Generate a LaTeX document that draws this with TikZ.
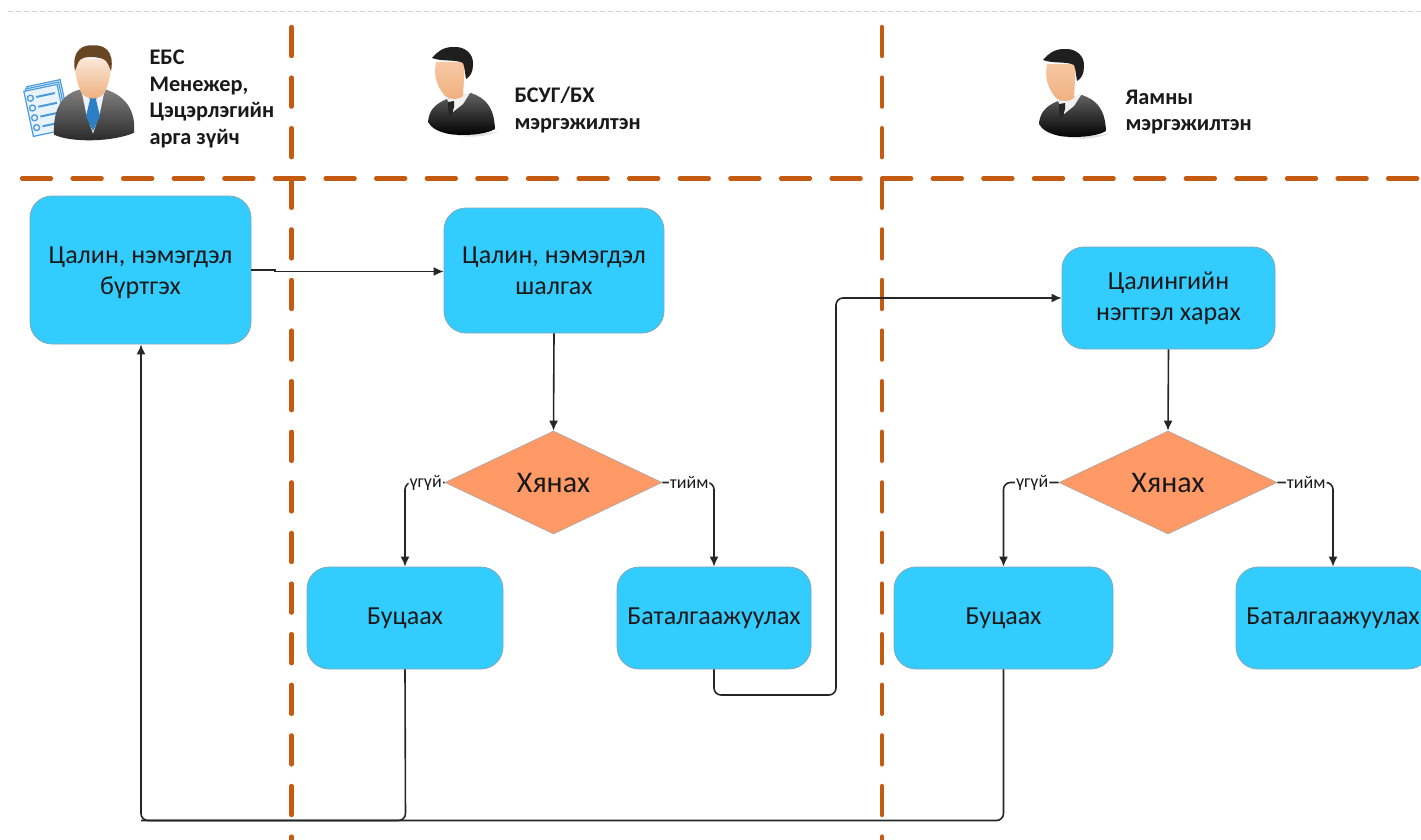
\documentclass[tikz,border=0pt]{standalone}
\usepackage{fontspec}
\setmainfont{Carlito}
\usetikzlibrary{shapes.geometric,arrows.meta}
\definecolor{boxblue}{HTML}{33CCFF}
\definecolor{boxedge}{HTML}{7FA8B8}
\definecolor{diaorange}{HTML}{FF9966}
\definecolor{laneline}{HTML}{C55A11}
\definecolor{paperblue}{HTML}{4A9BDC}
\definecolor{tieblue}{HTML}{2B7FC4}
\definecolor{skin}{HTML}{F5B585}
\tikzset{
  flowbox/.style={draw=boxedge,line width=0.8pt,fill=boxblue,rounded corners=22pt,align=center,font=\fontsize{26}{31}\selectfont,inner sep=0pt,text=black!90},
  decision/.style={diamond,draw=black!35,line width=0.6pt,fill=diaorange,aspect=2.1,inner sep=0pt,font=\fontsize{30}{30}\selectfont,text=black!90},
  conn/.style={draw=black!85,line width=1.6pt,rounded corners=7pt,-{Latex[length=10pt,width=9pt]}},
  plainconn/.style={draw=black!85,line width=1.6pt,rounded corners=7pt},
  lane/.style={draw=laneline,line width=4.4pt,line cap=round,dash pattern=on 29pt off 21.6pt},
  edgelabel/.style={fill=white,inner sep=1pt,font=\fontsize{18}{18}\selectfont,text=black!90},
  rolelabel/.style={align=left,anchor=west,font=\bfseries\fontsize{22.3}{26.7}\selectfont,text=black!90},
  suit/.pic={
    \fill[black!12] (-30,36) .. controls (-10,47) and (20,47) .. (36,39) .. controls (20,43) and (-10,44) .. (-30,36) -- cycle;
    \shade[top color=black!62,bottom color=black] (-35,30) .. controls (-34,18) and (-28,12) .. (-16,7) -- (8,1) .. controls (22,6) and (31,14) .. (32,37) .. controls (22,43) and (0,44) .. (-14,42) .. controls (-24,40) and (-32,36) .. (-35,30) -- cycle;
    \fill[black!6] (-16,7) -- (7,1) -- (0,12) -- (-10,20) -- cycle;
    \fill[black!85] (-15,10) -- (-9,9) -- (-9,15) -- (-11,22) -- (-14,24) -- (-15,16) -- cycle;
    \shade[top color=skin!75!white,bottom color=skin!90!brown] (-27,-30) .. controls (-29,-18) and (-28,-8) .. (-18,4) .. controls (-13,8) and (-4,8) .. (0,4) -- (2,-30) -- cycle;
    \fill[black!88] (-31,-34) .. controls (-26,-40) and (-20,-45) .. (-10,-45) .. controls (2,-46) and (11,-38) .. (10,-27) .. controls (10,-20) and (7,-15) .. (3,-13) .. controls (2,-18) and (2,-24) .. (0,-29) .. controls (-8,-33) and (-20,-30) .. (-31,-34) -- cycle;
  },
  manager/.pic={
    \begin{scope}[shift={(-65,15)},rotate=12]
      \foreach \d in {4,2,0}{\draw[draw=paperblue,line width=1.2pt,fill=paperblue!12] (\d,-\d-20) rectangle (\d+34,-\d+26);}
      \foreach \yy in {-12,-2,8,18}{
        \draw[paperblue,line width=1.3pt] (5,\yy) circle (3pt);
        \draw[paperblue,line width=2pt] (11,\yy) -- (30,\yy);}
    \end{scope}
    \begin{scope}[yscale=.92]
    \shade[top color=black!50,bottom color=black!85] (-39,42) .. controls (-40,15) and (-32,-2) .. (-13,-7) -- (13,-7) .. controls (32,0) and (43,15) .. (41,40) .. controls (20,50) and (-22,51) .. (-39,42) -- cycle;
    \fill[blue!6] (-12,-8) -- (12,-8) -- (7,18) -- (0,41) -- (-7,18) -- cycle;
    \fill[tieblue] (-6,-4) -- (6,-4) -- (3,4) -- (7,22) -- (0,38) -- (-7,22) -- (-3,4) -- cycle;
    \shade[top color=skin!35!white,bottom color=skin!85!brown] (-18,-40) -- (18,-40) .. controls (19,-20) and (13,-8) .. (12,-4) .. controls (5,5) and (-5,5) .. (-12,-4) .. controls (-13,-8) and (-19,-20) .. (-18,-40) -- cycle;
    \fill[brown!55!black] (-18,-27) .. controls (-22,-52) and (-8,-56) .. (0,-55) .. controls (10,-56) and (22,-50) .. (18,-27) .. controls (15,-36) and (13,-40) .. (8,-41) .. controls (0,-43) and (-8,-43) .. (-12,-40) .. controls (-15,-38) and (-16,-33) .. (-18,-27) -- cycle;
    \end{scope}
  }
}
\begin{document}
\begin{tikzpicture}[x=1pt,y=-1pt]
\useasboundingbox (0,0) rectangle (1421,840);
\clip (0,0) rectangle (1421,840);
% page-top hairline and lane rules
\coordinate (topL) at (8,11); \coordinate (topR) at (1421,11);
\draw[black!15,line width=.8pt,dash pattern=on 6pt off 2pt] (topL) -- (topR);
\coordinate (hL) at (22,178.5); \coordinate (hR) at (1421,178.5);
\coordinate (v1T) at (291.5,27); \coordinate (v1B) at (291.5,845);
\coordinate (v2T) at (882,27); \coordinate (v2B) at (882,845);
\draw[lane] (v1T) -- (v1B);
\draw[lane] (v2T) -- (v2B);
\draw[lane] (hL) -- (hR);
% role icons and labels
\pic at (93,96) {manager};
\pic at (463,92) {suit};
\pic at (1074,94) {suit};
\node[rolelabel] (r1) at (146,99) {ЕБС\\Менежер,\\Цэцэрлэгийн\\арга зүйч};
\node[rolelabel] (r2) at (511,110) {БСУГ/БХ\\мэргэжилтэн};
\node[rolelabel] (r3) at (1122,112) {Яамны\\мэргэжилтэн};
% process boxes
\node[flowbox,minimum width=221pt,minimum height=148pt] (reg) at (140.5,270) {\rule{0pt}{22pt}Цалин, нэмэгдэл\\бүртгэх};
\node[flowbox,minimum width=220pt,minimum height=125pt] (chk) at (554,270.5) {Цалин, нэмэгдэл\\шалгах};
\node[flowbox,minimum width=213pt,minimum height=102pt] (sum) at (1168.5,298) {Цалингийн\\нэгтгэл харах};
\node[decision,minimum width=217pt,minimum height=103pt] (d1) at (553.5,482.5) {Хянах};
\node[decision,minimum width=218pt,minimum height=103pt] (d2) at (1168,482.5) {Хянах};
\node[flowbox,minimum width=196pt,minimum height=102pt] (ret1) at (405,618) {Буцаах};
\node[flowbox,minimum width=194pt,minimum height=102pt] (ok1) at (714,618) {Баталгаажуулах};
\node[flowbox,minimum width=219pt,minimum height=102pt] (ret2) at (1003.5,618) {Буцаах};
\node[flowbox,minimum width=194pt,minimum height=102pt] (ok2) at (1333,618) {Баталгаажуулах};
% bend points
\coordinate (b1) at (275,270); \coordinate (b2) at (275,271.5);
\coordinate (okD) at (714,695); \coordinate (okR) at (836,695); \coordinate (okU) at (836,298);
\coordinate (retB1) at (405.5,820.5); \coordinate (retB2) at (1003.5,820.5); \coordinate (retL) at (141,820.5);
% connectors
\draw[draw=black!85,line width=1.3pt,-{Latex[length=10pt,width=9pt]}] (reg.east |- b1) -- (b1) -- (b2) -- (chk.west |- b2);
\draw[conn] (chk.south) -- (d1.north);
\draw[conn] (sum.south) -- (d2.north);
\draw[conn] (d1.west) -| (ret1.north) node[pos=.24,edgelabel] (no1) {үгүй};
\draw[conn] (d1.east) -| (ok1.north) node[pos=.26,edgelabel] (yes1) {тийм};
\draw[conn] (d2.west) -| (ret2.north) node[pos=.24,edgelabel] (no2) {үгүй};
\draw[conn] (d2.east) -| (ok2.north) node[pos=.26,edgelabel] (yes2) {тийм};
\draw[conn] (ok1.south) -- (okD) -- (okR) -- (okU) -- (sum.west |- okU);
\draw[plainconn] (ret2.south) -- (retB2) -- (retL);
\draw[conn] (ret1.south) -- (retB1) -- (retL) -- (reg.south -| retL);
\end{tikzpicture}
\end{document}
